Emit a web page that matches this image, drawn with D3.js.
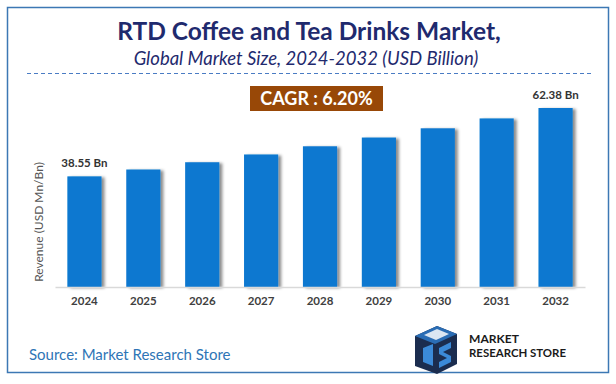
<!DOCTYPE html>
<html>
<head>
<meta charset="utf-8">
<script src="https://cdn.jsdelivr.net/npm/d3@7"></script>
<style>
  body { margin: 0; background: #fff; }
  text { font-family: Lato, "Open Sans", sans-serif; }
</style>
</head>
<body>
<div id="chart"></div>
<script>
const width = 616,
      height = 384;

// data
const years = ["2024", "2025", "2026", "2027", "2028", "2029", "2030", "2031", "2032"]
const revenue = [38.55, 40.94, 43.48, 46.18, 49.04, 52.08, 55.31, 58.74, 62.38]
const endLabels = ["38.55 Bn", "62.38 Bn"]
const cagrText = "CAGR : 6.20%"

const data = years.map((y, i) => ({ year: y, value: revenue[i] }))

const svg = d3.select("#chart")
  .append("svg")
    .attr("width", width)
    .attr("height", height)

const defs = svg.append("defs")
const shadow = defs.append("filter")
    .attr("id", "shadow")
    .attr("x", "-20%").attr("y", "-10%")
    .attr("width", "160%").attr("height", "130%")
shadow.append("feDropShadow")
    .attr("dx", 3).attr("dy", 1)
    .attr("stdDeviation", 1.8)
    .attr("flood-color", "#000")
    .attr("flood-opacity", 0.45)

// frame
svg.append("rect")
    .attr("x", 7.5).attr("y", 7.5)
    .attr("width", 601).attr("height", 365)
    .attr("fill", "none")
    .attr("stroke", "#3c78b4")
    .attr("stroke-width", 1.5)

// titles
svg.append("text")
    .attr("x", 309).attr("y", 40)
    .attr("text-anchor", "middle")
    .attr("font-size", 24.5)
    .attr("font-weight", "bold")
    .attr("fill", "#1f2a6e")
    .text("RTD Coffee and Tea Drinks Market,")

svg.append("text")
    .attr("x", 306).attr("y", 65)
    .attr("text-anchor", "middle")
    .attr("font-size", 18.5)
    .attr("font-style", "italic")
    .attr("fill", "#1f2a6e")
    .text("Global Market Size, 2024-2032 (USD Billion)")

svg.append("line")
    .attr("x1", 27).attr("x2", 591)
    .attr("y1", 73.5).attr("y2", 73.5)
    .attr("stroke", "#4a7cc4")
    .attr("stroke-dasharray", "4,3")

// scales
const x = d3.scaleBand()
    .domain(years)
    .range([55, 585])
    .paddingInner(0.42)
    .paddingOuter(0.21)

const y = d3.scaleLinear()
    .domain([0, 62.38])
    .range([287, 108])

// CAGR badge
const badge = svg.append("g")
badge.append("rect")
    .attr("x", 250).attr("y", 86)
    .attr("width", 133).attr("height", 25)
    .attr("fill", "#984807")
badge.append("text")
    .attr("x", 316.5).attr("y", 105)
    .attr("text-anchor", "middle")
    .attr("font-size", 18)
    .attr("font-weight", "bold")
    .attr("fill", "#fff")
    .text(cagrText)

// bars
svg.append("g")
  .selectAll("rect")
  .data(data)
  .join("rect")
    .attr("x", d => x(d.year))
    .attr("y", d => y(d.value))
    .attr("width", x.bandwidth())
    .attr("height", d => y(0) - y(d.value))
    .attr("fill", "#0a78d0")
    .attr("filter", "url(#shadow)")

// axis
const xAxis = svg.append("g")
    .attr("transform", `translate(0,${y(0)})`)
    .call(d3.axisBottom(x).tickSize(0).tickPadding(10))
xAxis.select(".domain").attr("stroke", "#d9d9d9").attr("stroke-width", 1.5)
xAxis.selectAll("text")
    .attr("font-size", 11.5)
    .attr("font-weight", "bold")
    .attr("fill", "#404040")
    .style("font-family", "Lato, sans-serif")

// end labels
const ends = [data[0], data[data.length - 1]]
svg.append("g")
  .selectAll("text")
  .data(ends)
  .join("text")
    .attr("x", d => x(d.year) + x.bandwidth() / 2)
    .attr("y", d => y(d.value) - 9)
    .attr("text-anchor", "middle")
    .attr("font-size", 11.5)
    .attr("font-weight", "bold")
    .attr("fill", "#333")
    .text((d, i) => endLabels[i])

// y label
svg.append("text")
    .attr("transform", "translate(43,222) rotate(-90)")
    .attr("text-anchor", "middle")
    .attr("font-size", 12)
    .attr("fill", "#555")
    .text("Revenue (USD Mn/Bn)")

// source
svg.append("text")
    .attr("x", 29).attr("y", 360)
    .attr("font-size", 15)
    .attr("fill", "#2e75b6")
    .text("Source: Market Research Store")

// logo
const logo = svg.append("g").attr("transform", "translate(415,326)")
logo.append("path")
    .attr("d", "M0,10 L22,0 L42,8 L42,38 L22,48 L0,40 Z")
    .attr("fill", "#1b2d4f")
logo.append("path")
    .attr("d", "M0,10 L22,0 L42,8 L20,18 Z")
    .attr("fill", "#2a6db5")
logo.append("path")
    .attr("d", "M8,22 L18,18 L18,40 L8,36 Z M24,22 L36,16 L36,22 L28,26 L36,30 L36,36 L24,42 L24,36 L32,32 L24,28 Z")
    .attr("fill", "#3b8ad8")
logo.append("path")
    .attr("d", "M9,9 L22,3 L34,8 L21,14 Z")
    .attr("fill", "#dbe6f2")
logo.append("text")
    .attr("x", 54).attr("y", 17)
    .attr("font-size", 11.5)
    .attr("font-weight", "bold")
    .attr("fill", "#1a1a1a")
    .attr("textLength", 50)
    .attr("lengthAdjust", "spacingAndGlyphs")
    .text("MARKET")
logo.append("text")
    .attr("x", 54).attr("y", 31)
    .attr("font-size", 11.5)
    .attr("font-weight", "bold")
    .attr("fill", "#1a1a1a")
    .attr("textLength", 97)
    .attr("lengthAdjust", "spacingAndGlyphs")
    .text("RESEARCH STORE")
</script>
</body>
</html>
